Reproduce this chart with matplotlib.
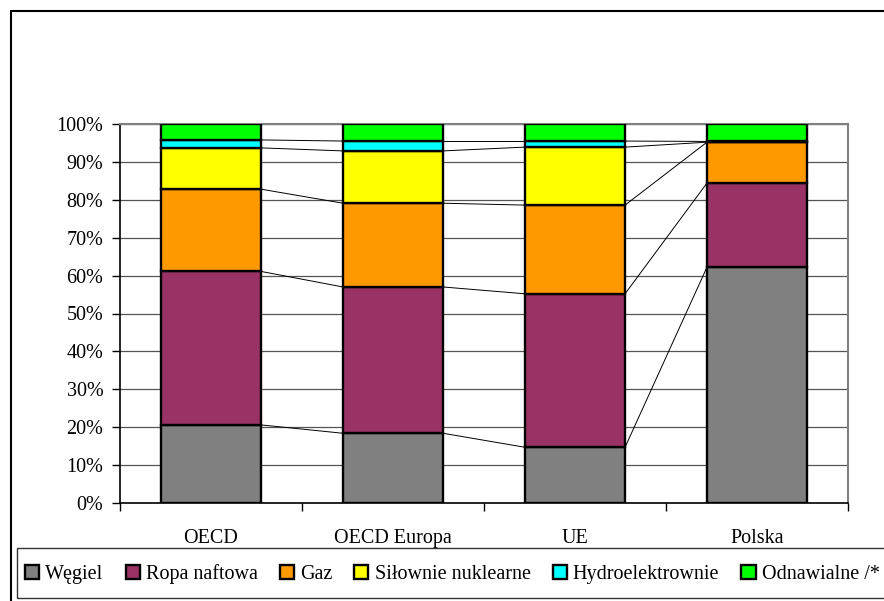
import numpy as np
import matplotlib
matplotlib.use("Agg")
import matplotlib.pyplot as plt
from matplotlib.patches import Rectangle
from matplotlib.ticker import PercentFormatter

plt.rcParams['font.family'] = ['Liberation Serif', 'DejaVu Serif']

regions = ['OECD', 'OECD Europa', 'UE', 'Polska']
sources = ['Węgiel', 'Ropa naftowa', 'Gaz', 'Siłownie nuklearne',
           'Hydroelektrownie', 'Odnawialne /*']
colors = ['#808080', '#993366', '#FF9900', '#FFFF00', '#00FFFF', '#00FF00']

# share of each source per region, %
wegiel = [20.6, 18.4, 14.7, 62.2]
ropa = [40.5, 38.6, 40.5, 22.2]
gaz = [21.7, 22.1, 23.4, 10.8]
nuklearne = [10.9, 13.8, 15.3, 0.0]
hydro = [2.1, 2.6, 1.6, 0.2]
odnawialne = [4.2, 4.5, 4.5, 4.6]

series = [wegiel, ropa, gaz, nuklearne, hydro, odnawialne]

fig = plt.figure(figsize=(8.84, 6.01), dpi=100)
W, H = 884, 601
ax = fig.add_axes([120 / W, 1 - 503 / H, 728 / W, 379 / H])

x = np.arange(len(regions))
width = 0.55
bottom = np.zeros(len(regions))
tops = []
for vals, name, col in zip(series, sources, colors):
    vals = np.array(vals)
    ax.bar(x, vals, width, bottom=bottom, color=col, edgecolor='black',
           linewidth=1.7, label=name, zorder=3)
    bottom = bottom + vals
    tops.append(bottom.copy())

# series lines between neighbouring columns
for t in tops:
    for i in range(len(regions) - 1):
        ax.plot([x[i] + width / 2, x[i + 1] - width / 2], [t[i], t[i + 1]],
                color='black', linewidth=0.7, zorder=2)

ax.set_xlim(-0.5, len(regions) - 0.5)
ax.set_ylim(0, 100)
ax.set_yticks(np.arange(0, 101, 10))
ax.yaxis.set_major_formatter(PercentFormatter(decimals=0))
ax.yaxis.grid(True, color='#555555', linewidth=0.9, zorder=0)
ax.set_axisbelow(True)

ax.set_xticks(x)
ax.set_xticklabels(regions, fontsize=14.5)
ax.set_xticks(np.arange(-0.5, len(regions), 1), minor=True)
ax.tick_params(axis='x', which='major', length=0, pad=19)
ax.tick_params(axis='x', which='minor', length=6, width=1, color='black')
ax.tick_params(axis='y', length=6, width=1, labelsize=14.5, pad=6)

for s in ['left', 'bottom']:
    ax.spines[s].set_color('black')
    ax.spines[s].set_linewidth(1.2)
for s in ['top', 'right']:
    ax.spines[s].set_color('#808080')
    ax.spines[s].set_linewidth(1.5)

# outer chart border and legend box
fig.patches.append(Rectangle((11 / W, -0.05), 1.1, 1 - 11 / H + 0.05,
                             transform=fig.transFigure, fill=False,
                             edgecolor='black', linewidth=1.5))
fig.patches.append(Rectangle((17 / W, 1 - 598 / H), 1.1, 50 / H,
                             transform=fig.transFigure, fill=False,
                             edgecolor='#333333', linewidth=1.0))

fig.legend(loc='center left', bbox_to_anchor=(25 / W, 1 - 574 / H),
           ncol=6, frameon=False, fontsize=14.5, handlelength=0.7,
           handleheight=0.7, handletextpad=0.3, columnspacing=1.1,
           borderaxespad=0, borderpad=0)

fig.savefig('out.png', dpi=100)
